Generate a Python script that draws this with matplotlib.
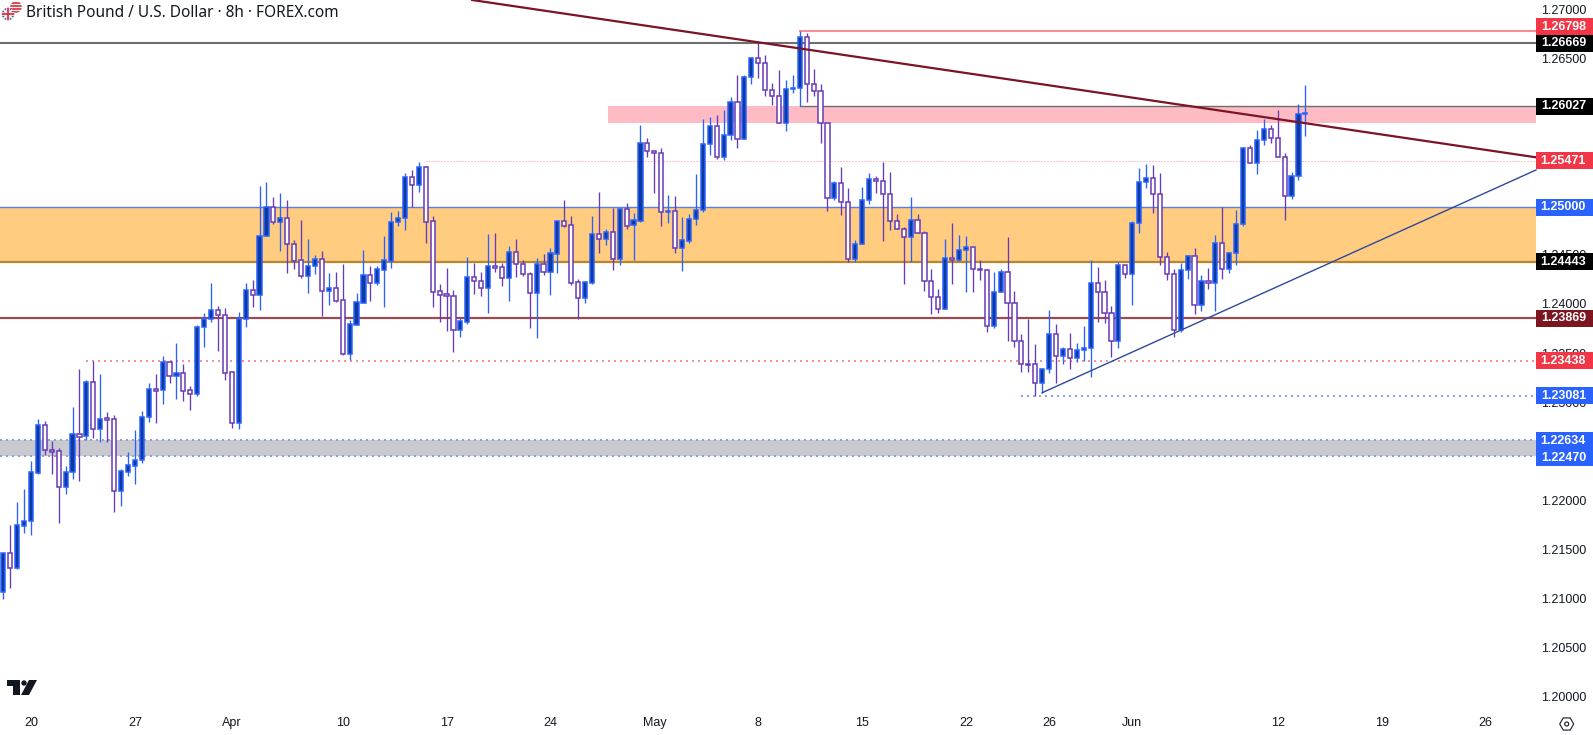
import matplotlib
matplotlib.use("Agg")
import matplotlib.pyplot as plt
import matplotlib.patches as patches
import matplotlib.transforms as transforms
import numpy as np

opens = [
    1.21085, 1.21476, 1.21330, 1.21757, 1.21801, 1.22297, 1.22779, 1.22524, 1.22514, 1.22154,
    1.22300, 1.22687, 1.22667, 1.23217, 1.22745, 1.22850, 1.22840, 1.22114, 1.22307, 1.22368,
    1.22423, 1.22860, 1.23145, 1.23135, 1.23420, 1.23285, 1.23308, 1.23135, 1.23101, 1.23777,
    1.23858, 1.23950, 1.23899, 1.23319, 1.22806, 1.23858, 1.24153, 1.24103, 1.24703, 1.25000,
    1.24846, 1.24887, 1.24622, 1.24459, 1.24303, 1.24398, 1.24469, 1.24150, 1.24174, 1.24052,
    1.23509, 1.23804, 1.24028, 1.24306, 1.24232, 1.24364, 1.24456, 1.24846, 1.24887, 1.25304,
    1.25223, 1.25406, 1.24856, 1.24143, 1.24113, 1.24092, 1.23753, 1.23834, 1.24286, 1.24245,
    1.24181, 1.24401, 1.24388, 1.24282, 1.24540, 1.24418, 1.24316, 1.24130, 1.24418, 1.24344,
    1.24527, 1.24856, 1.24815, 1.24235, 1.24079, 1.24232, 1.24724, 1.24680, 1.24744, 1.24476,
    1.24978, 1.24815, 1.24859, 1.25650, 1.25569, 1.25548, 1.24951, 1.24958, 1.24581, 1.24659,
    1.24876, 1.24968, 1.25640, 1.25823, 1.25514, 1.25732, 1.26068, 1.25691, 1.26322, 1.26516,
    1.26465, 1.26190, 1.26129, 1.25854, 1.26200, 1.26210, 1.26730, 1.26251, 1.26180, 1.25854,
    1.25090, 1.25243, 1.25050, 1.24469, 1.24622, 1.25070, 1.25284, 1.25263, 1.25131, 1.24856,
    1.24775, 1.24693, 1.24866, 1.24734, 1.24245, 1.24082, 1.23960, 1.24479, 1.24460, 1.24561,
    1.24592, 1.24368, 1.24358, 1.23788, 1.24134, 1.24337, 1.24022, 1.23635, 1.23404, 1.23401,
    1.23207, 1.23350, 1.23706, 1.23482, 1.23553, 1.23462, 1.23543, 1.23564, 1.24225, 1.24134,
    1.23920, 1.23635, 1.24409, 1.24317, 1.24836, 1.25254, 1.25295, 1.25132, 1.24490, 1.24317,
    1.23747, 1.24358, 1.24500, 1.24001, 1.24246, 1.24225, 1.24633, 1.24368, 1.24531, 1.24826,
    1.25599, 1.25447, 1.25681, 1.25793, 1.25701, 1.25508, 1.25111, 1.25314, 1.25946,
]
closes = [
    1.21476, 1.21330, 1.21761, 1.21801, 1.22300, 1.22779, 1.22524, 1.22511, 1.22154, 1.22300,
    1.22687, 1.22664, 1.23217, 1.22745, 1.22847, 1.22837, 1.22114, 1.22311, 1.22372, 1.22423,
    1.22860, 1.23145, 1.23132, 1.23420, 1.23285, 1.23308, 1.23132, 1.23101, 1.23777, 1.23858,
    1.23950, 1.23899, 1.23315, 1.22806, 1.23858, 1.24153, 1.24103, 1.24703, 1.25000, 1.24846,
    1.24887, 1.24622, 1.24456, 1.24303, 1.24398, 1.24469, 1.24150, 1.24174, 1.24048, 1.23509,
    1.23807, 1.24031, 1.24306, 1.24232, 1.24367, 1.24459, 1.24846, 1.24887, 1.25304, 1.25223,
    1.25406, 1.24853, 1.24140, 1.24109, 1.24092, 1.23753, 1.23838, 1.24286, 1.24245, 1.24181,
    1.24398, 1.24384, 1.24282, 1.24540, 1.24418, 1.24316, 1.24130, 1.24418, 1.24344, 1.24530,
    1.24856, 1.24812, 1.24232, 1.24079, 1.24235, 1.24724, 1.24680, 1.24744, 1.24476, 1.24978,
    1.24812, 1.24866, 1.25650, 1.25569, 1.25548, 1.24954, 1.24958, 1.24581, 1.24663, 1.24876,
    1.24968, 1.25640, 1.25823, 1.25514, 1.25732, 1.26068, 1.25691, 1.26322, 1.26516, 1.26465,
    1.26190, 1.26129, 1.25854, 1.26200, 1.26210, 1.26730, 1.26251, 1.26180, 1.25854, 1.25090,
    1.25243, 1.25050, 1.24469, 1.24622, 1.25070, 1.25284, 1.25263, 1.25131, 1.24856, 1.24775,
    1.24693, 1.24866, 1.24734, 1.24245, 1.24082, 1.23960, 1.24479, 1.24459, 1.24561, 1.24592,
    1.24368, 1.24358, 1.23788, 1.24134, 1.24337, 1.24022, 1.23635, 1.23401, 1.23397, 1.23207,
    1.23350, 1.23706, 1.23482, 1.23553, 1.23462, 1.23543, 1.23564, 1.24225, 1.24134, 1.23920,
    1.23635, 1.24409, 1.24317, 1.24836, 1.25254, 1.25295, 1.25132, 1.24490, 1.24317, 1.23747,
    1.24358, 1.24500, 1.24001, 1.24246, 1.24225, 1.24633, 1.24368, 1.24531, 1.24826, 1.25599,
    1.25447, 1.25681, 1.25793, 1.25701, 1.25508, 1.25111, 1.25314, 1.25946, 1.25956,
]
highs = [
    1.21476, 1.21764, 1.21998, 1.22131, 1.22416, 1.22843, 1.22823, 1.22619, 1.22548, 1.22365,
    1.22966, 1.23353, 1.23240, 1.23434, 1.23302, 1.22915, 1.22884, 1.22331, 1.22507, 1.22731,
    1.22925, 1.23210, 1.23302, 1.23485, 1.23437, 1.23617, 1.23403, 1.23179, 1.23801, 1.23923,
    1.24228, 1.23994, 1.23974, 1.23332, 1.23933, 1.24228, 1.24259, 1.25216, 1.25257, 1.25104,
    1.25145, 1.25073, 1.24666, 1.24870, 1.24676, 1.24510, 1.24554, 1.24327, 1.24340, 1.24422,
    1.23851, 1.24126, 1.24564, 1.24401, 1.24401, 1.24707, 1.24951, 1.24961, 1.25348, 1.25379,
    1.25460, 1.25419, 1.24910, 1.24218, 1.24381, 1.24157, 1.23872, 1.24493, 1.24432, 1.24340,
    1.24727, 1.24737, 1.24432, 1.24605, 1.24676, 1.24462, 1.24340, 1.24483, 1.24523, 1.24585,
    1.24859, 1.25073, 1.24910, 1.24269, 1.24249, 1.24910, 1.25155, 1.24778, 1.24992, 1.24992,
    1.25043, 1.24937, 1.25833, 1.25705, 1.25569, 1.25603, 1.25124, 1.25114, 1.24900, 1.24931,
    1.25338, 1.25898, 1.25918, 1.25939, 1.25990, 1.26122, 1.26346, 1.26346, 1.26529, 1.26682,
    1.26550, 1.26261, 1.26397, 1.26295, 1.26346, 1.26798, 1.26770, 1.26404, 1.26254, 1.25854,
    1.25263, 1.25409, 1.25195, 1.24666, 1.25206, 1.25348, 1.25318, 1.25460, 1.25358, 1.24931,
    1.24798, 1.25104, 1.24931, 1.24761, 1.24371, 1.24167, 1.24676, 1.24839, 1.24718, 1.24707,
    1.24595, 1.24463, 1.24368, 1.24341, 1.24371, 1.24697, 1.24147, 1.23710, 1.23862, 1.23608,
    1.23363, 1.23954, 1.23811, 1.23577, 1.23720, 1.23618, 1.23791, 1.24463, 1.24392, 1.24259,
    1.23995, 1.24443, 1.24409, 1.24860, 1.25400, 1.25440, 1.25430, 1.25349, 1.24544, 1.24371,
    1.24432, 1.24514, 1.24585, 1.24310, 1.24382, 1.24718, 1.25003, 1.24544, 1.24972, 1.25613,
    1.25633, 1.25786, 1.25898, 1.25837, 1.25990, 1.25548, 1.25358, 1.26051, 1.26244,
]
lows = [
    1.21011, 1.21126, 1.21316, 1.21686, 1.21666, 1.22283, 1.22477, 1.22283, 1.21788, 1.22080,
    1.22233, 1.22216, 1.22626, 1.22650, 1.22609, 1.22609, 1.21896, 1.21958, 1.22263, 1.22182,
    1.22399, 1.22813, 1.22803, 1.22996, 1.23210, 1.23047, 1.23027, 1.22935, 1.23078, 1.23577,
    1.23831, 1.23536, 1.23240, 1.22752, 1.22742, 1.23780, 1.23984, 1.23953, 1.24703, 1.24829,
    1.24554, 1.24330, 1.24371, 1.24279, 1.24126, 1.24320, 1.23892, 1.24004, 1.24035, 1.23495,
    1.23444, 1.23804, 1.24028, 1.24045, 1.24208, 1.23984, 1.24381, 1.24809, 1.24768, 1.25002,
    1.25155, 1.24635, 1.23984, 1.23831, 1.23739, 1.23526, 1.23678, 1.23811, 1.24116, 1.24096,
    1.23923, 1.24340, 1.24198, 1.24045, 1.24289, 1.24299, 1.23770, 1.23668, 1.24310, 1.24106,
    1.24330, 1.24798, 1.24208, 1.23862, 1.24025, 1.24218, 1.24534, 1.24615, 1.24361, 1.24411,
    1.24778, 1.24462, 1.24849, 1.25511, 1.25148, 1.24808, 1.24839, 1.24534, 1.24350, 1.24635,
    1.24819, 1.24951, 1.25531, 1.25491, 1.25481, 1.25684, 1.25603, 1.25691, 1.26254, 1.26315,
    1.26132, 1.26041, 1.25854, 1.25776, 1.26163, 1.26027, 1.26071, 1.26132, 1.25654, 1.24961,
    1.25073, 1.24921, 1.24442, 1.24442, 1.24622, 1.25033, 1.25145, 1.24656, 1.24768, 1.24775,
    1.24218, 1.24442, 1.24734, 1.24147, 1.23912, 1.23923, 1.23960, 1.24218, 1.24453, 1.24137,
    1.24137, 1.24259, 1.23730, 1.23771, 1.24134, 1.23638, 1.23577, 1.23323, 1.23323, 1.23078,
    1.23109, 1.23312, 1.23211, 1.23404, 1.23353, 1.23424, 1.23435, 1.23272, 1.23832, 1.23822,
    1.23475, 1.23567, 1.24280, 1.24005, 1.24738, 1.25196, 1.24942, 1.24412, 1.24259, 1.23679,
    1.23730, 1.24270, 1.23913, 1.23944, 1.24168, 1.23944, 1.24270, 1.24331, 1.24412, 1.24809,
    1.25447, 1.25338, 1.25633, 1.25654, 1.25508, 1.24870, 1.25083, 1.25277, 1.25725,
]

price_ticks = [1.27, 1.265, 1.26, 1.255, 1.25, 1.245, 1.24, 1.235, 1.23, 1.225, 1.22, 1.215, 1.21, 1.205, 1.20]
date_ticks = [4, 19, 33, 49, 64, 79, 94, 109, 124, 139, 151, 163, 184, 199, 214]
date_labels = ["20", "27", "Apr", "10", "17", "24", "May", "8", "15", "22", "26", "Jun", "12", "19", "26"]

# price label: value, box colour, shift of the box
tag_values = [1.26798, 1.26669, 1.26027, 1.25471, 1.25000, 1.24443, 1.23869, 1.23438, 1.23081, 1.22634, 1.22470]
tag_colors = ["#f23645", "#000000", "#000000", "#f23645", "#2962ff", "#000000", "#7b1620", "#f23645", "#2962ff", "#2962ff", "#2962ff"]
tag_shift = [0.0004, 0, 0, 0, 0, 0, 0, 0, 0, -0.0001, -0.0002]

trend_down_x = [67.7, 221.3]
trend_down_y = [1.27110, 1.25508]
trend_up_x = [150.0, 221.3]
trend_up_y = [1.23111, 1.25379]

W, H = 1593, 735
RIGHT = 221.3

fig = plt.figure(figsize=(W / 100, H / 100), dpi=100)
plt.rcParams['font.family'] = ['Liberation Sans', 'DejaVu Sans']
ax = fig.add_axes([0, 0, 1, 1])
ax.set_xlim(-3.3 / 6.926, (W - 3.3) / 6.926)
ax.set_ylim(1.27110 - 0.00010183 * H, 1.27110)
ax.axis('off')

# zones
left = ax.get_xlim()[0]
ax.fill_between([left, RIGHT], 1.24443, 1.25, color="#ffcc80", lw=0, zorder=1)
ax.fill_between([87.3, RIGHT], 1.25857, 1.26027, color="#ffbbc4", lw=0, zorder=1)
ax.fill_between([left, RIGHT], 1.2247, 1.22634, color="#c9c9d0", lw=0, zorder=1)

# levels
ax.plot([left, RIGHT], [1.26669] * 2, color="#6e6e6e", lw=1.5, zorder=2)
ax.plot([115, RIGHT], [1.26798] * 2, color="#f88d95", lw=1.5, zorder=2)
ax.plot([115, RIGHT], [1.26027] * 2, color="#6e6e6e", lw=1.0, zorder=2)
ax.plot([left, RIGHT], [1.25] * 2, color="#5b7fe6", lw=1.0, zorder=2)
ax.plot([left, RIGHT], [1.24443] * 2, color="#b8862f", lw=1.6, zorder=2)
ax.plot([left, RIGHT], [1.23869] * 2, color="#9c4a50", lw=1.6, zorder=2)
ax.plot([61, RIGHT], [1.25471] * 2, color="#f28b92", lw=0.72, ls=(0, (1, 2)), zorder=2)
ax.plot([12, RIGHT], [1.23438] * 2, color="#f7929a", lw=1.44, ls=(0, (1, 2)), zorder=2)
ax.plot([147, RIGHT], [1.23081] * 2, color="#82a4f8", lw=1.44, ls=(0, (1, 2)), zorder=2)
ax.plot([left, RIGHT], [1.22634] * 2, color="#8f9fd0", lw=1.44, ls=(0, (1, 2)), zorder=2)
ax.plot([left, RIGHT], [1.2247] * 2, color="#8f9fd0", lw=1.44, ls=(0, (1, 2)), zorder=2)

# candles
idx = np.arange(len(opens))
o = np.array(opens)
c = np.array(closes)
up = c >= o
ax.vlines(idx[up], np.array(lows)[up], np.array(highs)[up], color="#2962ff", lw=0.95, zorder=3)
ax.vlines(idx[~up], np.array(lows)[~up], np.array(highs)[~up], color="#673ab7", lw=0.95, zorder=3)
ax.bar(idx[up], (c - o)[up], bottom=o[up], width=0.6, facecolor="#0d3aa0", edgecolor="#2962ff", lw=1.1, zorder=4)
ax.bar(idx[~up], (o - c)[~up], bottom=c[~up], width=0.6, facecolor="#ffffff", edgecolor="#673ab7", lw=1.1, zorder=4)

# trend lines
ax.plot(trend_down_x, trend_down_y, color="#7b1525", lw=1.6, zorder=5)
ax.plot(trend_up_x, trend_up_y, color="#2b4a9e", lw=1.0, zorder=5)

# price scale
blend = transforms.blended_transform_factory(ax.transAxes, ax.transData)
for t in price_ticks:
    ax.text(1586 / W, t, "%.5f" % t, transform=blend, ha='right', va='center', fontsize=9.0, color="#131722", zorder=6)
box_h = 17 * 0.00010183
for v, col, s in zip(tag_values, tag_colors, tag_shift):
    ax.add_patch(patches.Rectangle((1536 / W, v + s - box_h / 2), 56.5 / W, box_h, transform=blend,
                                   facecolor=col, edgecolor='none', zorder=7))
    ax.text(1586 / W, v + s, "%.5f" % v, transform=blend, ha='right', va='center', fontsize=9.0,
            color="white", fontweight='bold', zorder=8)

# date labels
for d, lab in zip(date_ticks, date_labels):
    ax.text(d, 1.27110 - 0.00010183 * 722.7, lab, ha='center', va='center', fontsize=9.0, color="#131722", zorder=6)

# header, logo and icons in pixel coords
ov = fig.add_axes([0, 0, 1, 1], facecolor='none')
ov.set_xlim(0, W)
ov.set_ylim(H, 0)
ov.axis('off')

ov.text(26, 12.5, "British Pound / U.S. Dollar · 8h · FOREX.com", fontsize=11.1, family=['Noto Sans', 'DejaVu Sans'],
        color="#131722", ha='left', va='center')

us = patches.Circle((16, 7), 5.8, facecolor="#eef0f5", edgecolor='none')
ov.add_patch(us)
for yy in [2.5, 5.5, 8.5, 11.5]:
    line, = ov.plot([10, 22], [yy, yy], color="#d8323c", lw=1.2)
    line.set_clip_path(us)
uk = patches.Circle((8, 14), 6.2, facecolor="#28478f", edgecolor='none')
ov.add_patch(uk)
for xs, ys, col, lw in [([2, 14], [8, 20], "white", 1.4), ([2, 14], [20, 8], "white", 1.4),
                        ([8, 8], [8, 20], "white", 2.6), ([2, 14], [14, 14], "white", 2.6),
                        ([8, 8], [8, 20], "#d8323c", 1.3), ([2, 14], [14, 14], "#d8323c", 1.3)]:
    line, = ov.plot(xs, ys, color=col, lw=lw)
    line.set_clip_path(uk)

ov.add_patch(patches.Polygon([(7, 680), (20, 680), (20, 695), (13, 695), (13, 686), (7, 686)], facecolor="#131722", edgecolor='none'))
ov.add_patch(patches.Circle((24, 683), 2.7, facecolor="#131722", edgecolor='none'))
ov.add_patch(patches.Polygon([(29, 680), (37, 680), (29, 695), (21, 695)], facecolor="#131722", edgecolor='none'))

ov.add_patch(patches.RegularPolygon((1566.7, 724), 6, radius=7, orientation=np.pi / 6, facecolor='none', edgecolor="#131722", lw=0.8))
ov.add_patch(patches.Circle((1566.7, 724), 2, facecolor='none', edgecolor="#131722", lw=0.8))

fig.savefig("out.png", dpi=100)
